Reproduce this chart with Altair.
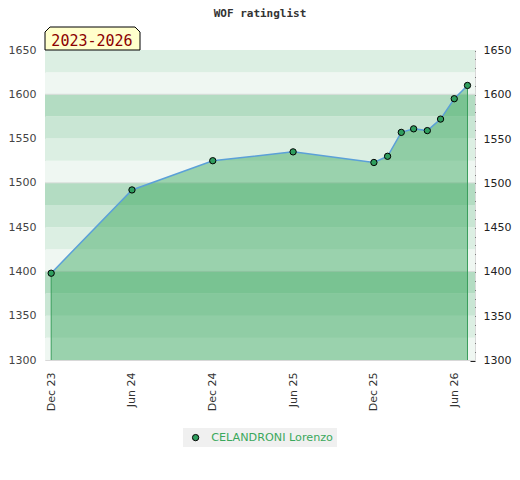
import altair as alt
import pandas as pd

# ---- data ----
dates = ["2023-12-01", "2024-06-01", "2024-12-01", "2025-06-01", "2025-12-01",
         "2026-01-01", "2026-02-01", "2026-03-01", "2026-04-01", "2026-05-01",
         "2026-06-01", "2026-07-01"]
ratings = [1398, 1492, 1525, 1535, 1523, 1530, 1557, 1561, 1559, 1572, 1595, 1610]
player = "CELANDRONI Lorenzo"
chart_title = "WOF ratinglist"
period_label = "2023-2026"
x_tick_dates = [(2023, 12), (2024, 6), (2024, 12), (2025, 6), (2025, 12), (2026, 6)]
y_min, y_max = 1300, 1650
y_label_values = [1300, 1350, 1400, 1450, 1500, 1550, 1600, 1650]
y_minor_values = list(range(1300, 1651, 10))
grid_values = [1400, 1500, 1600]
band_step = 25
band_colors = ["#eff7f2", "#dcefe3", "#c9e6d4", "#b3dcc2"]

df = pd.DataFrame({"date": dates, "rating": ratings, "player": player})
edges = df.iloc[[0, -1]]

bands = pd.DataFrame({
    "lo": list(range(y_min, y_max, band_step)),
})
bands["hi"] = bands["lo"] + band_step
bands["col"] = [band_colors[((v - y_min) // band_step) % 4] for v in bands["lo"]]
grid = pd.DataFrame({"v": grid_values})

yscale = alt.Scale(domain=[y_min, y_max], nice=False, zero=False)
xscale = alt.Scale(
    type="utc",
    domain=[alt.DateTime(year=2023, month=11, date=17, utc=True),
            alt.DateTime(year=2026, month=7, date=18, utc=True)],
)

band_layer = alt.Chart(bands).mark_rect().encode(
    y=alt.Y("lo:Q", scale=yscale, axis=None),
    y2="hi:Q",
    color=alt.Color("col:N", scale=None, legend=None),
)

grid_layer = alt.Chart(grid).mark_rule(color="#d6dcd8", strokeWidth=1).encode(
    y=alt.Y("v:Q", scale=yscale, axis=None),
)

area_layer = alt.Chart(df).mark_area(
    interpolate="linear", color="#32a559", opacity=0.45
).encode(
    x=alt.X(
        "date:T", scale=xscale, title=None,
        axis=alt.Axis(
            values=[alt.DateTime(year=y, month=m, date=1, utc=True) for y, m in x_tick_dates],
            labelExpr="utcFormat(datum.value, '%b %y')",
            labelAngle=270, labelAlign="right",
            labelBaseline="middle", labelPadding=12, ticks=False, domain=False,
            grid=False, labelFont="DejaVu Sans", labelFontSize=11,
            labelColor="#333333", labelFlush=False, labelOverlap=False,
        ),
    ),
    y=alt.Y(
        "rating:Q", scale=yscale, title=None,
        axis=alt.Axis(
            orient="left", values=y_label_values, format="d", ticks=False,
            domain=False, grid=False, labelPadding=9, labelFont="DejaVu Sans",
            labelFontSize=11, labelColor="#444444", labelFlush=False,
            labelOverlap=False,
        ),
    ),
    y2=alt.datum(y_min),
)

edge_layer = alt.Chart(edges).mark_rule(color="#3a9d5d", strokeWidth=1).encode(
    x="date:T",
    y=alt.Y("rating:Q", axis=None),
    y2=alt.datum(y_min),
)

line_layer = alt.Chart(df).mark_line(
    interpolate="linear", color="#5ba0d8", strokeWidth=1.5
).encode(
    x="date:T",
    y=alt.Y(
        "rating:Q", title=None,
        axis=alt.Axis(
            orient="right", values=y_minor_values, format="d",
            labelExpr="datum.value % 50 === 0 ? datum.label : ''",
            ticks=True, tickSize=5, tickColor="#222222", tickWidth=1,
            tickOffset=0.5, offset=-5,
            domain=False, grid=False, labelPadding=8, labelFont="DejaVu Sans",
            labelFontSize=11, labelColor="#222222", labelFlush=False,
            labelOverlap=False,
        ),
    ),
)

point_layer = alt.Chart(df).mark_circle(
    size=40, stroke="black", strokeWidth=1, opacity=1
).encode(
    x="date:T",
    y=alt.Y("rating:Q", axis=None),
    fill=alt.Fill(
        "player:N", scale=alt.Scale(range=["#2f9e5e"]),
        legend=alt.Legend(
            title=None, orient="none", legendX=138, legendY=378,
            fillColor="#f0f0f0", padding=4, symbolType="circle", symbolSize=40,
            symbolStrokeColor="black", symbolStrokeWidth=1, symbolOffset=3,
            labelOffset=10, labelColor="#3aa85c", labelFont="DejaVu Sans",
            labelFontSize=11.2,
        ),
    ),
)

# period badge (label box above the top-left corner of the plot)
badge_df = pd.DataFrame({"t": [period_label]})
badge_path = ("M -1 0.2421 L -1 -0.1368 L -0.8947 -0.2421 L 0.8947 -0.2421 "
              "L 1 -0.1368 L 1 0.2421 Z")
badge_box = alt.Chart(badge_df).mark_point(
    shape=badge_path, size=9025, filled=True, fill="#ffffcc",
    stroke="black", strokeWidth=1, opacity=1,
).encode(x=alt.value(47.5), y=alt.value(-11.5))
badge_text = alt.Chart(badge_df).mark_text(
    font="DejaVu Sans Mono", fontSize=15, color="#8b0000",
    align="center", baseline="alphabetic",
).encode(x=alt.value(47), y=alt.value(-4.5), text="t:N")

chart = alt.layer(
    band_layer, grid_layer, area_layer, edge_layer, line_layer, point_layer,
    badge_box, badge_text,
).resolve_axis(y="independent").properties(
    width=430, height=310,
    title=alt.TitleParams(
        chart_title, font="DejaVu Sans Mono", fontSize=11, fontWeight="bold",
        color="#333333", anchor="middle", frame="group", offset=6,
    ),
    autosize=alt.AutoSizeParams(type="none"),
    padding={"left": 37, "top": 42, "right": 37, "bottom": 110},
).configure_view(stroke="#d8d8d8", strokeWidth=1)

chart.save("out.html", embed_options={"renderer": "svg", "actions": False})
